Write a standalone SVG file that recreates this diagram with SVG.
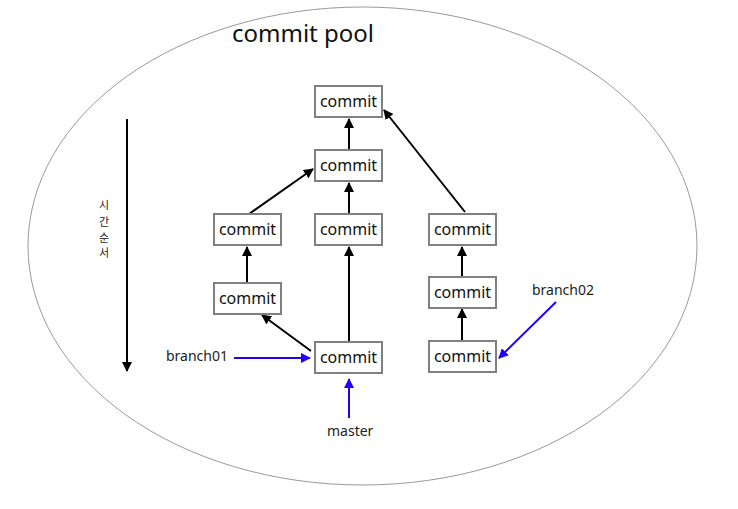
<svg xmlns="http://www.w3.org/2000/svg" width="738" height="509" viewBox="0 0 738 509">
<style>
.box{fill:#fff;stroke:#808080;stroke-width:2}
.t{font-family:"Noto Sans","Noto Sans CJK KR",sans-serif;font-size:16px;fill:#111;text-anchor:middle}
.lbl{font-family:"Noto Sans","Noto Sans CJK KR",sans-serif;font-size:14px;fill:#222}
.kr{font-family:"Noto Sans CJK KR",sans-serif;font-size:11px;fill:#222;text-anchor:middle}
.k{stroke:#000;stroke-width:2;fill:none;marker-end:url(#ak)}
.b{stroke:#1f00ff;stroke-width:2;fill:none;marker-end:url(#ab)}
</style>
<defs>
<marker id="ak" viewBox="0 0 10 10" refX="9" refY="5" markerWidth="5" markerHeight="5" orient="auto" markerUnits="strokeWidth"><path d="M0,0 L10,5 L0,10 z" fill="#000"/></marker>
<marker id="ab" viewBox="0 0 10 10" refX="9" refY="5" markerWidth="5" markerHeight="5" orient="auto" markerUnits="strokeWidth"><path d="M0,0 L10,5 L0,10 z" fill="#1f00ff"/></marker>
</defs>
<rect width="738" height="509" fill="#fff"/>
<ellipse cx="362.5" cy="246" rx="334.5" ry="239" fill="none" stroke="#999" stroke-width="1"/>
<text x="232" y="42" font-family="Noto Sans, Noto Sans CJK KR, sans-serif" font-size="24" fill="#111">commit pool</text>
<g id="timeline">
<line x1="127" y1="119" x2="127" y2="371" class="k"/>
<text class="kr" x="104" y="209">시</text>
<text class="kr" x="104" y="226">간</text>
<text class="kr" x="104" y="242">순</text>
<text class="kr" x="104" y="257">서</text>
</g>
<g id="connectors">
<line x1="349" y1="150" x2="349" y2="119" class="k"/>
<line x1="465" y1="212" x2="384" y2="110" class="k"/>
<line x1="249" y1="214" x2="313" y2="169" class="k"/>
<line x1="349" y1="214" x2="349" y2="183" class="k"/>
<line x1="247" y1="283" x2="247" y2="247" class="k"/>
<line x1="349" y1="341" x2="349" y2="247" class="k"/>
<line x1="311" y1="351" x2="262" y2="315" class="k"/>
<line x1="462" y1="341" x2="462" y2="309" class="k"/>
<line x1="462" y1="277" x2="462" y2="247" class="k"/>
<line x1="234" y1="358" x2="310" y2="358" class="b"/>
<line x1="349" y1="418" x2="349" y2="379" class="b"/>
<line x1="556" y1="302" x2="499" y2="358" class="b"/>
</g>
<g id="c1"><rect class="box" x="315" y="86" width="67" height="31"/><text class="t" x="348.5" y="107">commit</text></g>
<g id="c2"><rect class="box" x="315" y="150" width="67" height="31"/><text class="t" x="348.5" y="171">commit</text></g>
<g id="c3l"><rect class="box" x="214" y="214" width="67" height="31"/><text class="t" x="247.5" y="235">commit</text></g>
<g id="c3m"><rect class="box" x="315" y="214" width="67" height="31"/><text class="t" x="348.5" y="235">commit</text></g>
<g id="c3r"><rect class="box" x="429" y="214" width="67" height="31"/><text class="t" x="462.5" y="235">commit</text></g>
<g id="c4l"><rect class="box" x="214" y="283" width="67" height="31"/><text class="t" x="247.5" y="304">commit</text></g>
<g id="c4r"><rect class="box" x="429" y="277" width="67" height="31"/><text class="t" x="462.5" y="298">commit</text></g>
<g id="c5m"><rect class="box" x="315" y="342" width="67" height="31"/><text class="t" x="348.5" y="363">commit</text></g>
<g id="c5r"><rect class="box" x="429" y="341" width="67" height="31"/><text class="t" x="462.5" y="362">commit</text></g>
<g id="branch01"><text class="lbl" x="166" y="361">branch01</text></g>
<g id="master"><text class="lbl" x="327" y="436">master</text></g>
<g id="branch02"><text class="lbl" x="532" y="295">branch02</text></g>
</svg>
